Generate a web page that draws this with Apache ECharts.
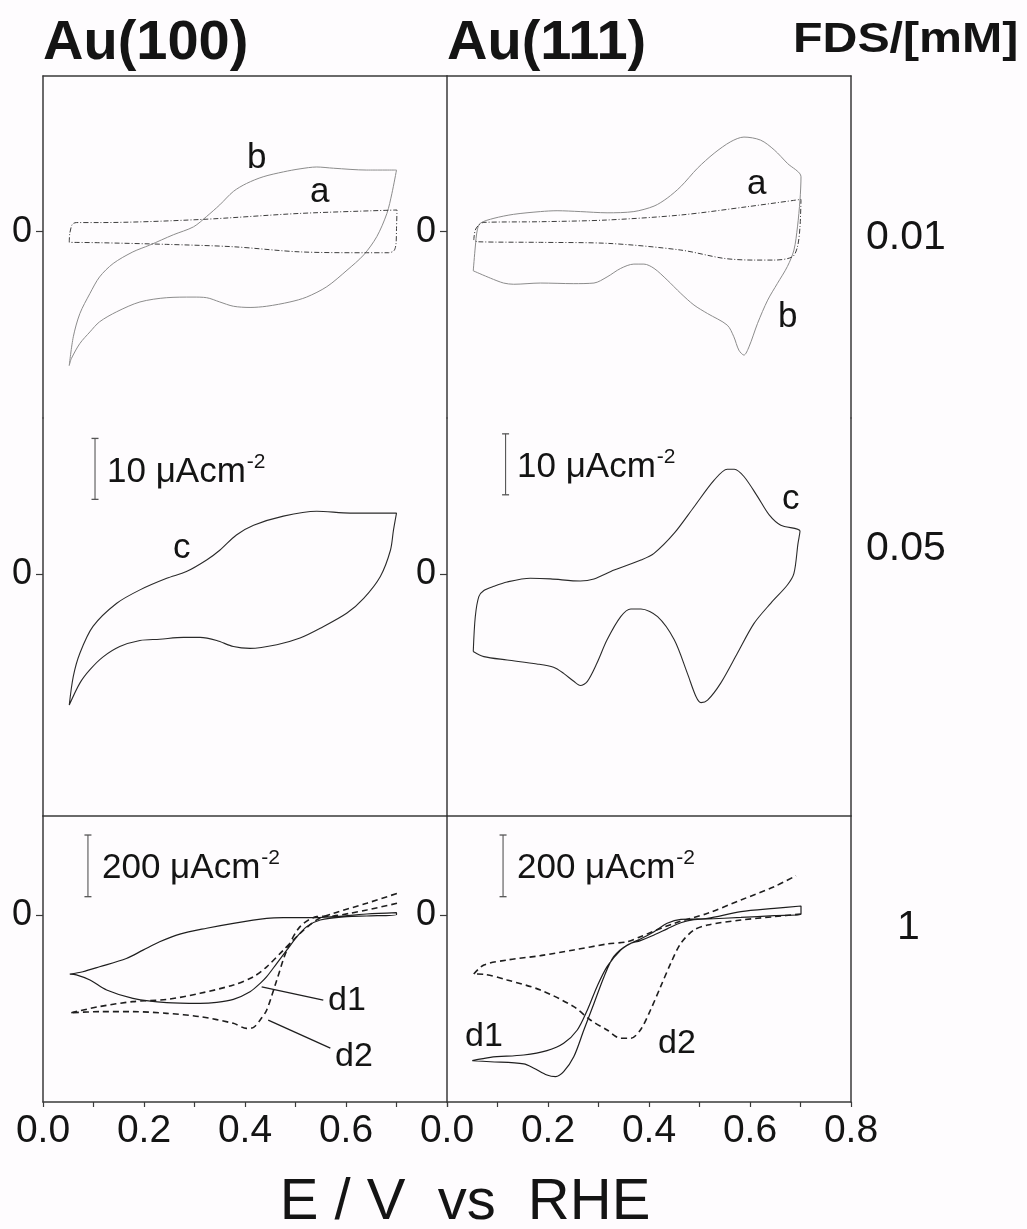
<!DOCTYPE html>
<html>
<head>
<meta charset="utf-8">
<title>FDS adsorption on Au(100) and Au(111)</title>
<script src="https://cdn.jsdelivr.net/npm/echarts@6/dist/echarts.min.js"></script>
<style>
  html, body { margin: 0; padding: 0; background: #fefcfe; }
  #chart { width: 1027px; height: 1229px; }
</style>
</head>
<body>
<div id="chart"></div>
<script>
// ---------- data: potential E (V vs RHE), current density j (µA cm^-2) ----------
const potentialTicks = [0, 0.2, 0.4, 0.6, 0.8];
const faces = ['Au(100)', 'Au(111)'];
const concentrations = ['0.01', '0.05', '1'];   // FDS / mM, one per row

// row 1: 0.01 mM FDS
const au100_a = [[0.052,-1.74],[0.053,-0.3],[0.058,1.2],[0.066,1.5],[0.112,1.5],[0.311,2.0],[0.509,3.0],[0.701,3.56],
  [0.700,0.5],[0.699,-2.0],[0.695,-3.1],[0.684,-3.44],[0.641,-3.44],[0.509,-3.3],[0.377,-2.46],[0.245,-2.07],[0.112,-1.8],[0.052,-1.74]];
const au100_b = [[0.052,-21.9],[0.060,-17.2],[0.073,-13.4],[0.093,-10.1],[0.112,-7.4],[0.139,-5.2],[0.178,-3.3],[0.211,-2.2],
  [0.258,-0.5],[0.298,0.8],[0.324,2.5],[0.350,4.4],[0.377,6.6],[0.403,7.9],[0.436,9.0],[0.476,9.8],[0.509,10.3],[0.542,10.6],
  [0.575,10.4],[0.641,10.1],[0.700,10.1],
  [0.691,6.3],[0.681,3.0],[0.661,-0.8],[0.635,-3.8],[0.602,-6.3],[0.562,-9.0],[0.522,-10.7],[0.489,-11.5],[0.443,-12.2],
  [0.410,-12.4],[0.377,-12.2],[0.350,-11.5],[0.324,-10.8],[0.297,-10.7],[0.245,-10.8],[0.192,-11.5],[0.146,-13.1],
  [0.112,-14.75],[0.093,-16.4],[0.073,-18.3],[0.056,-20.8],[0.052,-21.9]];
const au111_a = [[0.053,-1.36],[0.056,0.28],[0.063,1.1],[0.073,1.53],[0.185,1.64],[0.317,1.92],[0.463,2.74],[0.595,4.1],[0.701,5.3],
  [0.699,0.8],[0.694,-2.46],[0.684,-4.1],[0.648,-4.64],[0.608,-4.64],[0.549,-4.37],[0.463,-3.0],[0.317,-1.9],[0.185,-1.74],
  [0.060,-1.64],[0.053,-1.36]];
const au111_b = [[0.052,-6.4],[0.056,-2.5],[0.060,0.3],[0.066,1.4],[0.093,2.2],[0.132,2.85],[0.185,3.3],[0.218,3.44],[0.264,3.3],
  [0.317,3.1],[0.370,3.3],[0.410,4.2],[0.436,5.5],[0.463,7.4],[0.496,10.4],[0.529,12.85],[0.562,14.75],[0.588,15.5],
  [0.621,15.0],[0.648,13.4],[0.674,11.2],[0.701,9.0],
  [0.699,5.2],[0.694,0.8],[0.687,-3.0],[0.674,-5.7],[0.654,-8.5],[0.635,-11.2],[0.615,-15.0],[0.598,-18.85],[0.588,-20.2],
  [0.578,-19.4],[0.568,-17.2],[0.555,-15.3],[0.516,-13.4],[0.489,-12.0],[0.463,-10.1],[0.436,-7.9],[0.410,-6.0],[0.390,-5.3],
  [0.370,-5.3],[0.344,-6.0],[0.317,-7.4],[0.291,-8.4],[0.251,-8.5],[0.185,-8.4],[0.132,-8.6],[0.112,-8.4],[0.086,-7.6],[0.052,-6.4]];

// row 2: 0.05 mM FDS
const au100_c = [[0.052,-21.5],[0.060,-16.8],[0.073,-13.0],[0.099,-8.6],[0.146,-4.8],[0.192,-2.6],[0.245,-0.7],[0.284,0.4],
  [0.324,2.3],[0.350,3.9],[0.383,6.4],[0.417,8.0],[0.476,9.5],[0.542,10.3],[0.608,10.0],[0.700,10.0],
  [0.694,7.2],[0.688,3.9],[0.668,-0.4],[0.635,-4.0],[0.602,-6.4],[0.549,-8.9],[0.509,-10.5],[0.463,-11.6],[0.410,-12.2],
  [0.377,-11.9],[0.344,-10.9],[0.311,-10.4],[0.278,-10.4],[0.231,-10.7],[0.192,-10.9],[0.152,-11.9],[0.119,-13.6],
  [0.093,-15.7],[0.073,-17.9],[0.052,-21.5]];
const au111_c = [[0.052,-12.7],[0.056,-7.0],[0.063,-3.7],[0.073,-2.7],[0.093,-2.0],[0.119,-1.3],[0.165,-0.7],[0.205,-0.8],
  [0.264,-1.15],[0.291,-0.8],[0.331,0.66],[0.384,2.3],[0.410,3.4],[0.450,6.7],[0.489,11.0],[0.529,15.4],[0.555,17.2],
  [0.569,17.2],[0.588,16.0],[0.615,12.7],[0.638,9.7],[0.661,8.0],[0.699,7.05],
  [0.695,5.0],[0.687,0.1],[0.674,-1.8],[0.641,-4.8],[0.608,-8.1],[0.575,-13.0],[0.542,-17.9],[0.516,-20.7],[0.503,-21.1],
  [0.493,-20.1],[0.476,-16.3],[0.450,-10.8],[0.417,-7.0],[0.384,-5.74],[0.364,-5.74],[0.344,-7.0],[0.317,-10.8],
  [0.297,-14.6],[0.278,-17.6],[0.264,-18.3],[0.251,-17.6],[0.231,-16.3],[0.211,-15.3],[0.178,-14.75],[0.119,-14.1],
  [0.073,-13.55],[0.052,-12.7]];

// row 3: 1 mM FDS (d1 solid, d2 dashed)
const au100_d1 = [[0.053,-192],[0.079,-184],[0.112,-168],[0.165,-141],[0.198,-114],[0.231,-87],[0.271,-62],[0.324,-43],
  [0.377,-27],[0.443,-11],[0.476,-8.6],[0.542,-8.6],[0.575,-5.4],[0.641,3.2],[0.700,7.6],
  [0.700,1.0],[0.641,-3.2],[0.602,-5.4],[0.549,-16.2],[0.522,-37.8],[0.503,-70.3],[0.483,-113.5],[0.463,-156.8],
  [0.443,-200],[0.430,-221.7],[0.410,-248.7],[0.377,-273.6],[0.344,-283.3],[0.311,-286.6],[0.245,-284.4],[0.178,-270.3],
  [0.126,-243.3],[0.093,-210.8],[0.066,-194],[0.053,-192]];
const au100_d2 = [[0.056,-317],[0.112,-297],[0.178,-281],[0.245,-274],[0.311,-254],[0.377,-227],[0.417,-200],[0.443,-168],
  [0.476,-114],[0.509,-60],[0.542,-16],[0.575,5.4],[0.641,38],[0.701,70]];
const au100_d2_return = [[0.701,37.8],[0.641,16.2],[0.608,5.4],[0.575,-3.2],[0.542,-5.4],[0.509,-37.8],[0.483,-113.5],
  [0.463,-210.8],[0.443,-308.1],[0.430,-340.6],[0.417,-364.4],[0.403,-367.7],[0.377,-351.4],[0.311,-329.8],[0.245,-319],
  [0.178,-313.6],[0.112,-313.6],[0.056,-317]];
const au111_d1 = [[0.050,-472.5],[0.086,-461.6],[0.152,-454.1],[0.198,-440],[0.231,-416.2],[0.258,-373],[0.278,-308.1],
  [0.297,-232.5],[0.317,-167.6],[0.344,-113.5],[0.364,-91.9],[0.383,-77.8],[0.410,-54.1],[0.436,-27],[0.463,-14.1],
  [0.489,-13],[0.516,-10.8],[0.582,10.8],[0.648,21.6],[0.701,29.2],
  [0.701,2.2],[0.648,-2],[0.582,-8],[0.516,-13],[0.489,-15],[0.463,-25],[0.436,-45],[0.410,-65],[0.383,-83],[0.357,-97],
  [0.330,-135],[0.311,-200],[0.291,-287],[0.271,-373],[0.251,-460],[0.231,-508],[0.215,-524],[0.198,-519],[0.172,-497],
  [0.152,-483],[0.086,-476],[0.050,-472.5]];
const au111_d2 = [[0.053,-191.4],[0.073,-162.2],[0.119,-146],[0.185,-131.9],[0.251,-113.5],[0.317,-94.1],[0.357,-86.5],
  [0.383,-70.3],[0.450,-27],[0.516,5.4],[0.582,48.7],[0.648,91.9],[0.691,127.6]];
const au111_d2_return = [[0.701,3.2],[0.648,-5.4],[0.582,-16.2],[0.516,-32.4],[0.489,-48.7],[0.463,-91.9],[0.443,-156.8],
  [0.423,-232.5],[0.403,-308.1],[0.383,-373],[0.364,-400],[0.344,-400],[0.317,-373],[0.284,-340.6],[0.251,-297.4],
  [0.185,-243.3],[0.119,-210.8],[0.073,-192.5],[0.053,-191.4]];

// label leaders for d1 / d2 in the Au(100) 1 mM panel
const d1Leader = [[0.433,-233],[0.555,-276]];
const d2Leader = [[0.446,-341],[0.569,-432]];

// current scale bars: [E, j_start], length in µA cm^-2
const scaleBarRow2 = { length: 10, au100: [0.103, 12.25], au111: [0.116, 13.0] };
const scaleBarRow3 = { length: 200, au100: [0.089, 59.4], au111: [0.111, 59.4] };

// ---------- layout ----------
const FONT = "'Liberation Sans', Arial, Helvetica, sans-serif";
const INK = '#141414';
const AXIS = '#3a3a3a';
const colLeft = [43, 447];
const colWidth = 404;
const rows = [
  { top: 76,  height: 342, min: -30.5, max: 25.5 },
  { top: 418, height: 398, min: -39.7, max: 25.6 },
  { top: 816, height: 286, min: -606.6, max: 321.1 }
];

const grid = [];
rows.forEach(r => colLeft.forEach(l => grid.push({ left: l, top: r.top, width: colWidth, height: r.height })));

const axisLine = { show: true, onZero: false, lineStyle: { color: AXIS, width: 1.5 } };

const xAxis = [];
// rows 1-2: frame line on top of row 1 only
for (let g = 0; g < 4; g++) {
  xAxis.push({
    gridIndex: g, type: 'value', min: 0, max: 0.8, interval: 0.2,
    position: 'top', show: g < 2,
    axisLine: axisLine, axisTick: { show: false }, axisLabel: { show: false }, splitLine: { show: false }
  });
}
// row 3: bottom potential axis with labels
for (let c = 0; c < 2; c++) {
  xAxis.push({
    gridIndex: 4 + c, type: 'value', min: potentialTicks[0], max: potentialTicks[potentialTicks.length - 1], interval: 0.2,
    position: 'bottom',
    axisLine: axisLine,
    axisTick: { show: true, length: 5, lineStyle: { color: AXIS, width: 1.2 } },
    minorTick: { show: true, splitNumber: 2, length: 5, lineStyle: { color: AXIS, width: 1.2 } },
    axisLabel: {
      show: true, margin: 10, fontFamily: FONT, fontSize: 39, color: INK,
      showMaxLabel: c === 1, showMinLabel: true,
      formatter: v => v.toFixed(1)
    },
    splitLine: { show: false }
  });
}
// row 3: separator line on top
for (let c = 0; c < 2; c++) {
  xAxis.push({
    gridIndex: 4 + c, type: 'value', min: 0, max: 0.8, position: 'top',
    axisLine: axisLine, axisTick: { show: false }, axisLabel: { show: false }, splitLine: { show: false }
  });
}

const yAxis = [];
rows.forEach(r => colLeft.forEach((l, c) => {
  yAxis.push({
    gridIndex: yAxis.length, type: 'value', min: r.min, max: r.max, position: 'left',
    axisLine: axisLine,
    axisTick: { show: true, customValues: [0], length: 7, lineStyle: { color: AXIS, width: 1.2 } },
    axisLabel: { show: true, customValues: [0], margin: 11, fontFamily: FONT, fontSize: 36, color: INK },
    splitLine: { show: false }
  });
}));
// right-hand frame of the Au(111) column
rows.forEach((r, i) => {
  yAxis.push({
    gridIndex: i * 2 + 1, type: 'value', min: r.min, max: r.max, position: 'right',
    axisLine: axisLine, axisTick: { show: false }, axisLabel: { show: false }, splitLine: { show: false }
  });
});

function curve(data, g, color, width, type) {
  return {
    type: 'line', xAxisIndex: g, yAxisIndex: g, data: data,
    symbol: 'none', smooth: data.length > 2 ? 0.3 : false, silent: true, animation: false,
    lineStyle: { color: color, width: width, type: type || 'solid' }
  };
}
function scaleBar(pos, len, g) {
  return {
    type: 'line', xAxisIndex: g, yAxisIndex: g,
    data: [[pos[0], pos[1]], [pos[0], pos[1] + len]],
    symbol: 'rect', symbolSize: [7, 1.3], showSymbol: true, silent: true, animation: false,
    itemStyle: { color: '#555' }, lineStyle: { color: '#555', width: 1.1 }
  };
}

const dashDot = [5, 2, 1, 2];
const dash = [6, 4];
const series = [
  curve(au100_b, 0, '#8c8c8c', 1),
  curve(au100_a, 0, '#3c3c3c', 1, dashDot),
  curve(au111_b, 1, '#8c8c8c', 1),
  curve(au111_a, 1, '#3c3c3c', 1, dashDot),
  curve(au100_c, 2, '#2a2a2a', 1.1),
  curve(au111_c, 3, '#2a2a2a', 1.1),
  curve(au100_d1, 4, '#1e1e1e', 1.2),
  curve(au100_d2, 4, '#1e1e1e', 1.6, dash),
  curve(au100_d2_return, 4, '#1e1e1e', 1.6, dash),
  curve(au111_d1, 5, '#1e1e1e', 1.2),
  curve(au111_d2, 5, '#1e1e1e', 1.6, dash),
  curve(au111_d2_return, 5, '#1e1e1e', 1.6, dash),
  curve(d1Leader, 4, '#1e1e1e', 1.3),
  curve(d2Leader, 4, '#1e1e1e', 1.3),
  scaleBar(scaleBarRow2.au100, scaleBarRow2.length, 2),
  scaleBar(scaleBarRow2.au111, scaleBarRow2.length, 3),
  scaleBar(scaleBarRow3.au100, scaleBarRow3.length, 4),
  scaleBar(scaleBarRow3.au111, scaleBarRow3.length, 5)
];

// ---------- texts ----------
function txt(text, x, y, size, opts) {
  opts = opts || {};
  return {
    type: 'text', x: x, y: y, silent: true, scaleX: opts.scaleX || 1,
    style: {
      text: text, fill: INK,
      font: (opts.bold ? 'bold ' : '') + size + 'px ' + FONT,
      textAlign: opts.align || 'left', textVerticalAlign: 'middle'
    }
  };
}
function unitText(value, x, y) {
  return {
    type: 'text', x: x, y: y, silent: true,
    style: {
      text: '{n|' + value + ' \u03bcAcm}{s|-2}',
      textAlign: 'left', textVerticalAlign: 'middle', fill: INK,
      rich: {
        n: { fontFamily: FONT, fontSize: 35, fill: INK, lineHeight: 44, verticalAlign: 'bottom' },
        s: { fontFamily: FONT, fontSize: 21, fill: INK, lineHeight: 44, verticalAlign: 'top', padding: [6, 0, 0, 1] }
      }
    }
  };
}

const graphic = [
  txt(faces[0], 43, 44, 56, { bold: true }),
  txt(faces[1], 447, 44, 56, { bold: true }),
  txt('FDS/[mM]', 793, 40, 42, { bold: true, scaleX: 1.15 }),
  txt(concentrations[0], 866, 238, 41),
  txt(concentrations[1], 866, 549, 41),
  txt(concentrations[2], 897, 928, 41),
  txt('b', 247, 158, 35),
  txt('a', 310, 192, 35),
  txt('a', 747, 184, 35),
  txt('b', 778, 317, 35),
  txt('c', 173, 548, 35),
  txt('c', 782, 499, 35),
  txt('d1', 328, 1001, 34),
  txt('d2', 335, 1057, 34),
  txt('d1', 465, 1037, 34),
  txt('d2', 658, 1044, 34),
  unitText(scaleBarRow2.length, 107, 468),
  unitText(scaleBarRow2.length, 517, 463),
  unitText(scaleBarRow3.length, 102, 864),
  unitText(scaleBarRow3.length, 517, 864),
  txt('E / V  vs  RHE', 465, 1203, 58, { align: 'center' })
];

const chart = echarts.init(document.getElementById('chart'), null, { renderer: 'canvas' });
chart.setOption({
  backgroundColor: '#fefcfe',
  animation: false,
  grid: grid,
  xAxis: xAxis,
  yAxis: yAxis,
  series: series,
  graphic: graphic
});
</script>
</body>
</html>
